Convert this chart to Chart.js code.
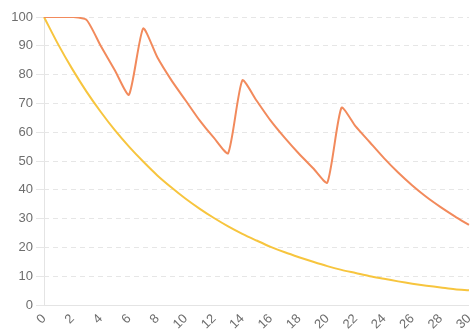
<!DOCTYPE html>
<html>
<head>
<meta charset="utf-8">
<script src="https://cdn.jsdelivr.net/npm/chart.js@4/dist/chart.umd.min.js"></script>
<style>
html,body{margin:0;padding:0;background:#fff;overflow:hidden;}
#wrap{width:486px;height:335px;position:relative;}
</style>
</head>
<body>
<div id="wrap"><canvas id="c"></canvas></div>
<script>
const days = [0,1,2,3,4,5,6,7,8,9,10,11,12,13,14,15,16,17,18,19,20,21,22,23,24,25,26,27,28,29,30];
const withDoses = [100,100,100,99,90,81.5,73,96,86,78,71,64,58,52.7,78,71,64,58,52.5,47.5,42.5,68.5,62,56.5,51,46,41.5,37.5,34,30.8,27.8];
const singleDose = [100,90.5,81.9,74.1,67.1,60.7,55,49.8,45,40.8,36.9,33.4,30.2,27.3,24.7,22.4,20.2,18.3,16.6,15,13.5,12.2,11.1,10,9.1,8.2,7.4,6.7,6.1,5.5,5.1];
const yTicks = [0,10,20,30,40,50,60,70,80,90,100];

Chart.defaults.font.family = "'Liberation Sans', Arial, sans-serif";
new Chart(document.getElementById('c'), {
  type: 'line',
  data: {
    labels: days,
    datasets: [
      {data: withDoses, borderColor: '#f28a5c', borderWidth: 2, pointRadius: 0, tension: 0.2, fill: false},
      {data: singleDose, borderColor: '#f7c53e', borderWidth: 2, pointRadius: 0, tension: 0.3, fill: false}
    ]
  },
  options: {
    responsive: true,
    maintainAspectRatio: false,
    animation: false,
    layout: {padding: {left: 0, top: 17, right: 0, bottom: 0}},
    plugins: {legend: {display: false}, tooltip: {enabled: false}},
    scales: {
      x: {
        afterFit: function(s){ s.height = 30; },
        grid: {display: true, drawTicks: false, lineWidth: 1,
          color: function(ctx){ return ctx.index === 0 ? '#e4e4e4' : 'rgba(0,0,0,0)'; }},
        border: {display: true, color: '#e4e4e4', width: 1},
        ticks: {color: '#6e6e6e', font: {size: 13}, maxRotation: 45, minRotation: 45, autoSkip: false, padding: 6,
          callback: function(v, i){ return days[i] % 2 === 0 ? String(days[i]) : null; }}
      },
      y: {
        min: 0, max: 100,
        afterFit: function(s){ s.width = 44; },
        afterBuildTicks: function(s){ s.ticks = yTicks.map(v => ({value: v})); },
        grid: {color: '#e6e6e6', tickLength: 8},
        border: {display: false, dash: [5,4]},
        ticks: {color: '#6e6e6e', font: {size: 13}}
      }
    }
  }
});
</script>
</body>
</html>
